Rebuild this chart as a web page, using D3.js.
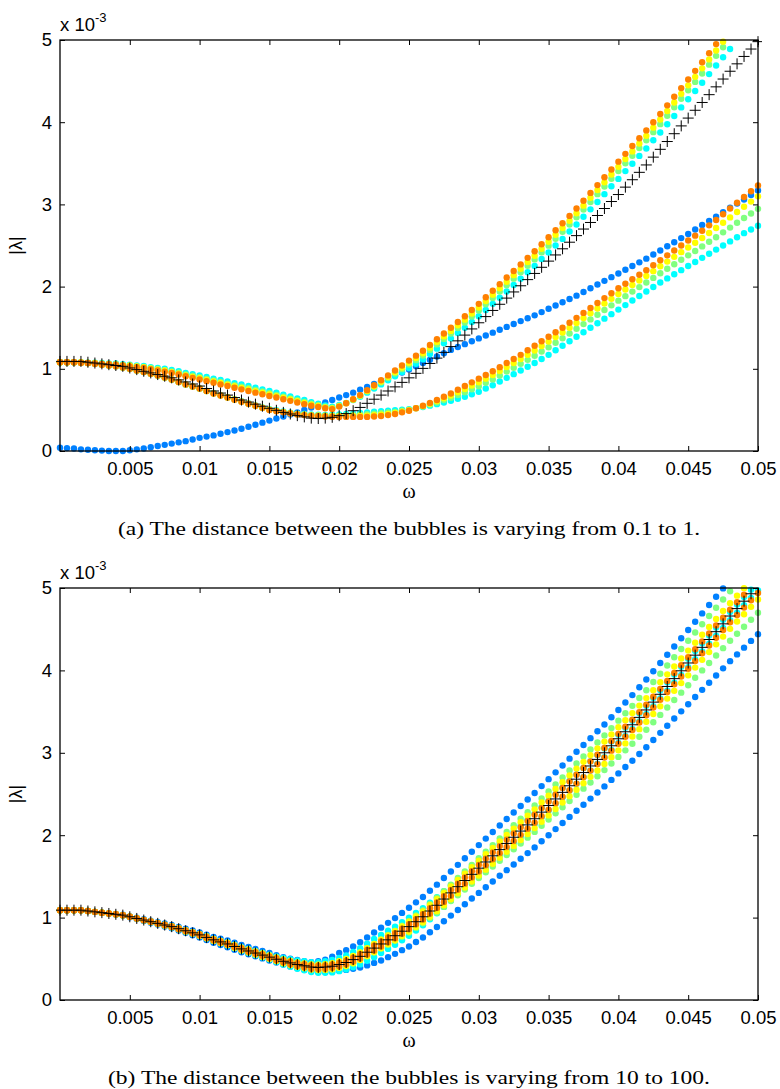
<!DOCTYPE html>
<html>
<head>
<meta charset="utf-8">
<script src="https://cdn.jsdelivr.net/npm/d3@7"></script>
<style>
  body { margin: 0; background: #fff; }
  svg { display: block; }
  .tick text { font-family: "Liberation Sans", Arial, sans-serif; font-size: 18.5px; fill: #000; }
  .tick line { stroke: #000; stroke-width: 1; }
</style>
</head>
<body>
<svg id="fig" width="780" height="1089"></svg>
<script>
// ── DATA ─────────────────────────────────────────────────────────────────────
// angular frequency samples (shared by every series)
const omega = [
  0,0.0005,0.001,0.0015,0.002,0.0025,0.003,0.0035,0.004,0.0045,
  0.005,0.0055,0.006,0.0065,0.007,0.0075,0.008,0.0085,0.009,0.0095,
  0.01,0.0105,0.011,0.0115,0.012,0.0125,0.013,0.0135,0.014,0.0145,
  0.015,0.0155,0.016,0.0165,0.017,0.0175,0.018,0.0185,0.019,0.0195,
  0.02,0.0205,0.021,0.0215,0.022,0.0225,0.023,0.0235,0.024,0.0245,
  0.025,0.0255,0.026,0.0265,0.027,0.0275,0.028,0.0285,0.029,0.0295,
  0.03,0.0305,0.031,0.0315,0.032,0.0325,0.033,0.0335,0.034,0.0345,
  0.035,0.0355,0.036,0.0365,0.037,0.0375,0.038,0.0385,0.039,0.0395,
  0.04,0.0405,0.041,0.0415,0.042,0.0425,0.043,0.0435,0.044,0.0445,
  0.045,0.0455,0.046,0.0465,0.047,0.0475,0.048,0.0485,0.049,0.0495,
  0.05
];

// |lambda| in units of 1e-3 — black "+" series, panel (a)
const plusA = [
  1.09,1.09,1.09,1.09,1.08,1.07,1.06,1.05,1.04,1.03,
  1.01,0.99,0.97,0.95,0.93,0.91,0.89,0.865,0.84,0.815,
  0.79,0.76,0.73,0.705,0.68,0.65,0.62,0.595,0.57,0.545,
  0.52,0.495,0.47,0.45,0.43,0.415,0.40,0.395,0.40,0.41,
  0.43,0.455,0.49,0.53,0.58,0.63,0.68,0.73,0.78,0.835,
  0.89,0.945,1.005,1.065,1.13,1.20,1.27,1.34,1.41,1.485,
  1.56,1.635,1.71,1.785,1.86,1.935,2.01,2.085,2.16,2.235,
  2.31,2.385,2.46,2.54,2.62,2.70,2.78,2.865,2.95,3.035,
  3.12,3.21,3.30,3.39,3.48,3.575,3.67,3.765,3.86,3.955,
  4.05,4.145,4.24,4.335,4.43,4.525,4.62,4.71,4.80,4.89,
  4.98
];
// black "+" series, panel (b)
const plusB = [
  1.09,1.09,1.09,1.09,1.08,1.07,1.06,1.05,1.04,1.03,
  1.01,0.99,0.97,0.95,0.93,0.91,0.89,0.865,0.84,0.815,
  0.79,0.76,0.73,0.705,0.68,0.65,0.62,0.595,0.57,0.545,
  0.52,0.495,0.47,0.45,0.43,0.415,0.40,0.395,0.40,0.41,
  0.43,0.455,0.49,0.53,0.58,0.63,0.68,0.73,0.78,0.835,
  0.89,0.95,1.01,1.08,1.15,1.225,1.30,1.375,1.45,1.525,
  1.60,1.675,1.75,1.825,1.90,1.975,2.05,2.125,2.20,2.28,
  2.36,2.44,2.52,2.60,2.68,2.76,2.84,2.92,3.00,3.085,
  3.17,3.255,3.34,3.43,3.52,3.615,3.71,3.805,3.90,3.995,
  4.09,4.185,4.28,4.375,4.47,4.565,4.66,4.75,4.84,4.93,
  5.02
];

// ── panel (a): distance 0.1 .. 1 ──
const aBlue = [
  0.04,0.035,0.03,0.02,0.015,0.01,0.005,0.0,0.0,0.0,
  0.01,0.02,0.03,0.045,0.06,0.075,0.09,0.105,0.12,0.14,
  0.16,0.175,0.19,0.21,0.23,0.25,0.27,0.295,0.32,0.345,
  0.37,0.395,0.42,0.445,0.47,0.50,0.53,0.56,0.59,0.62,
  0.65,0.68,0.71,0.745,0.78,0.815,0.85,0.885,0.92,0.955,
  0.99,1.03,1.07,1.11,1.15,1.19,1.23,1.265,1.30,1.335,
  1.37,1.405,1.44,1.475,1.51,1.545,1.58,1.615,1.65,1.69,
  1.73,1.77,1.81,1.85,1.89,1.935,1.98,2.025,2.07,2.115,
  2.16,2.205,2.25,2.295,2.34,2.39,2.44,2.49,2.54,2.59,
  2.64,2.695,2.75,2.80,2.85,2.905,2.96,3.01,3.06,3.115,
  3.17
];
const aCyanUp = [
  1.08,1.08,1.08,1.08,1.075,1.075,1.07,1.065,1.065,1.055,
  1.05,1.04,1.035,1.02,1.01,1.00,0.985,0.97,0.95,0.935,
  0.92,0.90,0.88,0.865,0.845,0.825,0.81,0.79,0.77,0.75,
  0.73,0.71,0.685,0.665,0.64,0.62,0.595,0.575,0.555,0.54,
  0.56,0.585,0.62,0.66,0.71,0.76,0.81,0.86,0.91,0.96,
  1.01,1.06,1.115,1.18,1.245,1.31,1.37,1.435,1.50,1.57,
  1.64,1.715,1.79,1.865,1.94,2.02,2.095,2.175,2.25,2.335,
  2.415,2.50,2.58,2.67,2.755,2.85,2.94,3.03,3.125,3.22,
  3.31,3.405,3.495,3.59,3.68,3.78,3.875,3.975,4.075,4.18,
  4.28,4.38,4.48,4.585,4.69,4.79,4.89
];
const aCyanLo = [
  1.08,1.08,1.08,1.075,1.07,1.06,1.05,1.04,1.03,1.015,
  1.00,0.98,0.96,0.94,0.92,0.895,0.87,0.84,0.81,0.785,
  0.76,0.73,0.705,0.68,0.655,0.63,0.605,0.58,0.555,0.53,
  0.51,0.495,0.48,0.467,0.455,0.45,0.445,0.442,0.44,0.442,
  0.445,0.45,0.455,0.462,0.47,0.477,0.485,0.49,0.495,0.502,
  0.51,0.522,0.535,0.552,0.57,0.59,0.61,0.635,0.66,0.69,
  0.72,0.76,0.80,0.845,0.89,0.935,0.98,1.025,1.07,1.12,
  1.17,1.225,1.28,1.335,1.39,1.445,1.50,1.555,1.61,1.665,
  1.72,1.775,1.83,1.885,1.94,1.995,2.05,2.10,2.15,2.20,
  2.25,2.30,2.35,2.40,2.45,2.50,2.55,2.60,2.65,2.695,
  2.74
];
const aGreenUp = [
  1.08,1.08,1.08,1.078,1.073,1.07,1.066,1.06,1.058,1.048,
  1.041,1.031,1.024,1.009,0.997,0.984,0.969,0.952,0.932,0.915,
  0.898,0.878,0.858,0.84,0.82,0.80,0.783,0.763,0.743,0.723,
  0.703,0.683,0.66,0.64,0.618,0.598,0.575,0.557,0.539,0.527,
  0.551,0.583,0.625,0.669,0.724,0.778,0.833,0.887,0.942,0.996,
  1.051,1.105,1.162,1.23,1.297,1.364,1.429,1.496,1.563,1.635,
  1.708,1.785,1.862,1.939,2.017,2.097,2.174,2.254,2.331,2.416,
  2.498,2.583,2.666,2.756,2.843,2.938,3.03,3.125,3.217,3.312,
  3.405,3.50,3.592,3.687,3.779,3.879,3.976,4.079,4.181,4.286,
  4.388,4.49,4.593,4.70,4.807,4.912
];
const aGreenLo = [
  1.08,1.08,1.08,1.075,1.07,1.06,1.05,1.04,1.03,1.015,
  1.00,0.98,0.96,0.94,0.92,0.895,0.87,0.84,0.81,0.785,
  0.76,0.73,0.703,0.678,0.653,0.628,0.603,0.578,0.553,0.528,
  0.506,0.491,0.476,0.463,0.451,0.445,0.439,0.435,0.432,0.432,
  0.432,0.435,0.438,0.442,0.447,0.453,0.46,0.468,0.476,0.489,
  0.502,0.521,0.541,0.566,0.591,0.619,0.648,0.681,0.715,0.751,
  0.787,0.829,0.871,0.919,0.966,1.013,1.06,1.109,1.158,1.21,
  1.262,1.317,1.372,1.43,1.487,1.544,1.601,1.658,1.715,1.772,
  1.829,1.884,1.939,1.994,2.049,2.106,2.163,2.218,2.272,2.326,
  2.38,2.434,2.489,2.545,2.601,2.66,2.718,2.776,2.835,2.89,
  2.946
];
const aYellowUp = [
  1.08,1.08,1.08,1.08,1.07,1.07,1.06,1.06,1.05,1.04,
  1.04,1.03,1.02,1.00,0.99,0.98,0.96,0.94,0.92,0.90,
  0.885,0.865,0.845,0.827,0.807,0.787,0.768,0.748,0.728,0.708,
  0.688,0.668,0.647,0.627,0.605,0.585,0.564,0.547,0.531,0.519,
  0.546,0.582,0.627,0.674,0.731,0.788,0.845,0.902,0.959,1.016,
  1.073,1.13,1.189,1.257,1.326,1.394,1.461,1.53,1.598,1.672,
  1.745,1.824,1.902,1.98,2.059,2.139,2.218,2.298,2.376,2.461,
  2.545,2.63,2.713,2.80,2.892,2.985,3.08,3.174,3.268,3.363,
  3.457,3.552,3.645,3.74,3.834,3.934,4.033,4.136,4.24,4.345,
  4.448,4.552,4.655,4.764,4.872,4.979
];
const aYellowLo = [
  1.08,1.08,1.08,1.075,1.07,1.06,1.05,1.04,1.03,1.015,
  1.00,0.98,0.96,0.94,0.92,0.895,0.87,0.84,0.81,0.785,
  0.76,0.73,0.70,0.676,0.651,0.626,0.601,0.576,0.551,0.526,
  0.503,0.488,0.473,0.46,0.448,0.441,0.434,0.43,0.425,0.424,
  0.423,0.424,0.426,0.428,0.43,0.435,0.441,0.451,0.462,0.479,
  0.495,0.521,0.546,0.576,0.607,0.641,0.676,0.715,0.755,0.796,
  0.837,0.88,0.924,0.973,1.021,1.07,1.119,1.171,1.223,1.277,
  1.331,1.386,1.441,1.499,1.558,1.617,1.675,1.734,1.793,1.851,
  1.91,1.965,2.02,2.075,2.13,2.188,2.247,2.304,2.362,2.419,
  2.476,2.534,2.591,2.652,2.713,2.777,2.842,2.907,2.971,3.034,
  3.098
];
const aOrangeUp = [
  1.08,1.08,1.08,1.075,1.07,1.065,1.06,1.055,1.05,1.04,
  1.03,1.02,1.01,0.995,0.98,0.965,0.95,0.93,0.91,0.89,
  0.87,0.85,0.83,0.81,0.79,0.77,0.75,0.73,0.71,0.69,
  0.67,0.65,0.63,0.61,0.59,0.57,0.55,0.535,0.52,0.51,
  0.54,0.58,0.63,0.68,0.74,0.80,0.86,0.92,0.98,1.04,
  1.10,1.16,1.22,1.29,1.36,1.43,1.50,1.57,1.64,1.715,
  1.79,1.87,1.95,2.03,2.11,2.19,2.27,2.35,2.43,2.515,
  2.60,2.685,2.77,2.86,2.95,3.045,3.14,3.235,3.33,3.425,
  3.52,3.615,3.71,3.805,3.90,4.00,4.10,4.205,4.31,4.415,
  4.52,4.625,4.73,4.84,4.95
];
const aOrangeLo = [
  1.08,1.08,1.08,1.075,1.07,1.06,1.05,1.04,1.03,1.015,
  1.00,0.98,0.96,0.94,0.92,0.895,0.87,0.84,0.81,0.785,
  0.76,0.73,0.70,0.675,0.65,0.625,0.60,0.575,0.55,0.525,
  0.50,0.485,0.47,0.457,0.445,0.437,0.43,0.425,0.42,0.417,
  0.415,0.415,0.415,0.415,0.415,0.42,0.425,0.437,0.45,0.47,
  0.49,0.52,0.55,0.585,0.62,0.66,0.70,0.745,0.79,0.835,
  0.88,0.925,0.97,1.02,1.07,1.12,1.17,1.225,1.28,1.335,
  1.39,1.445,1.50,1.56,1.62,1.68,1.74,1.80,1.86,1.92,
  1.98,2.035,2.09,2.145,2.20,2.26,2.32,2.38,2.44,2.50,
  2.56,2.62,2.68,2.745,2.81,2.88,2.95,3.02,3.09,3.16,
  3.23
];

// ── panel (b): distance 10 .. 100 ──
const bBlueUp = [
  1.09,1.09,1.09,1.09,1.08,1.07,1.06,1.05,1.045,1.035,
  1.015,0.998,0.98,0.963,0.945,0.928,0.91,0.888,0.865,0.843,
  0.82,0.793,0.766,0.744,0.722,0.695,0.668,0.645,0.62,0.595,
  0.57,0.545,0.52,0.502,0.485,0.472,0.46,0.47,0.49,0.525,
  0.57,0.605,0.65,0.70,0.76,0.82,0.878,0.936,0.994,1.057,
  1.12,1.185,1.25,1.325,1.40,1.48,1.56,1.64,1.72,1.80,
  1.88,1.959,2.038,2.117,2.196,2.275,2.354,2.433,2.512,2.596,
  2.68,2.763,2.846,2.929,3.012,3.095,3.178,3.261,3.344,3.432,
  3.52,3.61,3.70,3.795,3.89,3.99,4.09,4.19,4.29,4.39,
  4.49,4.591,4.692,4.793,4.894,4.995
];
const bBlueLo = [
  1.09,1.09,1.09,1.09,1.08,1.07,1.06,1.05,1.035,1.025,
  1.005,0.982,0.96,0.937,0.915,0.892,0.87,0.842,0.815,0.787,
  0.76,0.727,0.694,0.667,0.64,0.61,0.58,0.555,0.53,0.505,
  0.48,0.455,0.43,0.408,0.385,0.368,0.35,0.34,0.34,0.343,
  0.355,0.365,0.38,0.395,0.42,0.45,0.48,0.52,0.56,0.605,
  0.65,0.704,0.758,0.822,0.886,0.955,1.024,1.093,1.162,1.231,
  1.30,1.369,1.438,1.507,1.576,1.645,1.714,1.783,1.852,1.926,
  2.00,2.074,2.148,2.222,2.296,2.37,2.444,2.518,2.592,2.671,
  2.75,2.827,2.904,2.986,3.068,3.155,3.242,3.329,3.416,3.503,
  3.59,3.677,3.764,3.851,3.938,4.025,4.112,4.194,4.276,4.358,
  4.44
];
const bCyanUp = [
  1.09,1.09,1.09,1.09,1.08,1.07,1.06,1.05,1.04,1.03,
  1.01,0.991,0.972,0.953,0.934,0.915,0.896,0.872,0.848,0.824,
  0.80,0.772,0.744,0.721,0.698,0.67,0.642,0.619,0.596,0.573,
  0.55,0.53,0.51,0.495,0.48,0.47,0.46,0.46,0.47,0.485,
  0.51,0.541,0.582,0.628,0.684,0.74,0.79,0.84,0.89,0.945,
  1.00,1.057,1.114,1.181,1.248,1.32,1.392,1.464,1.536,1.608,
  1.68,1.753,1.826,1.899,1.972,2.045,2.118,2.191,2.264,2.342,
  2.42,2.499,2.578,2.657,2.736,2.815,2.894,2.973,3.052,3.136,
  3.22,3.305,3.39,3.48,3.57,3.665,3.76,3.855,3.95,4.045,
  4.14,4.235,4.33,4.425,4.52,4.615,4.71,4.80,4.89,4.98
];
const bCyanLo = [
  1.09,1.09,1.09,1.09,1.08,1.07,1.06,1.05,1.04,1.03,
  1.01,0.989,0.968,0.947,0.926,0.905,0.884,0.858,0.832,0.806,
  0.78,0.748,0.716,0.689,0.662,0.63,0.598,0.571,0.544,0.517,
  0.49,0.46,0.43,0.405,0.38,0.36,0.34,0.33,0.33,0.335,
  0.35,0.369,0.398,0.432,0.476,0.52,0.57,0.62,0.67,0.725,
  0.78,0.843,0.906,0.979,1.052,1.13,1.208,1.286,1.364,1.442,
  1.52,1.597,1.674,1.751,1.828,1.905,1.982,2.059,2.136,2.218,
  2.30,2.381,2.462,2.543,2.624,2.705,2.786,2.867,2.948,3.034,
  3.12,3.205,3.29,3.38,3.47,3.565,3.66,3.755,3.85,3.945,
  4.04,4.135,4.23,4.325,4.42,4.515,4.61,4.70,4.79,4.88,
  4.97
];
const bGreenUp = [
  1.09,1.09,1.09,1.09,1.08,1.07,1.06,1.05,1.04,1.03,
  1.01,0.991,0.972,0.953,0.934,0.915,0.896,0.872,0.848,0.824,
  0.80,0.771,0.742,0.718,0.694,0.665,0.636,0.612,0.588,0.564,
  0.54,0.517,0.493,0.475,0.457,0.443,0.43,0.428,0.435,0.448,
  0.47,0.497,0.534,0.576,0.628,0.68,0.734,0.788,0.842,0.901,
  0.96,1.025,1.09,1.165,1.24,1.32,1.40,1.48,1.56,1.64,
  1.72,1.80,1.88,1.96,2.04,2.12,2.20,2.28,2.36,2.445,
  2.53,2.615,2.70,2.785,2.87,2.955,3.04,3.125,3.21,3.30,
  3.39,3.48,3.57,3.665,3.76,3.86,3.96,4.06,4.16,4.26,
  4.36,4.46,4.56,4.66,4.76,4.86,4.96
];
const bGreenLo = [
  1.09,1.09,1.09,1.09,1.08,1.07,1.06,1.05,1.04,1.03,
  1.01,0.989,0.968,0.947,0.926,0.905,0.884,0.858,0.832,0.806,
  0.78,0.749,0.718,0.692,0.666,0.635,0.604,0.578,0.552,0.526,
  0.50,0.473,0.447,0.425,0.403,0.387,0.37,0.363,0.365,0.373,
  0.39,0.413,0.446,0.484,0.532,0.58,0.626,0.672,0.718,0.769,
  0.82,0.875,0.93,0.995,1.06,1.13,1.20,1.27,1.34,1.41,
  1.48,1.55,1.62,1.69,1.76,1.83,1.90,1.97,2.04,2.115,
  2.19,2.265,2.34,2.415,2.49,2.565,2.64,2.715,2.79,2.87,
  2.95,3.03,3.11,3.195,3.28,3.37,3.46,3.55,3.64,3.73,
  3.82,3.91,4.00,4.09,4.18,4.27,4.36,4.445,4.53,4.615,
  4.70
];
const bYellowUp = [
  1.09,1.09,1.09,1.09,1.08,1.07,1.06,1.05,1.04,1.03,
  1.01,0.991,0.972,0.953,0.934,0.915,0.896,0.872,0.848,0.824,
  0.80,0.771,0.742,0.718,0.694,0.665,0.636,0.612,0.588,0.564,
  0.54,0.517,0.493,0.475,0.457,0.443,0.43,0.428,0.435,0.448,
  0.47,0.497,0.534,0.576,0.628,0.68,0.732,0.784,0.836,0.893,
  0.95,1.013,1.076,1.149,1.222,1.30,1.378,1.456,1.534,1.612,
  1.69,1.768,1.846,1.924,2.002,2.08,2.158,2.236,2.314,2.397,
  2.48,2.562,2.644,2.726,2.808,2.89,2.972,3.054,3.136,3.223,
  3.31,3.396,3.482,3.573,3.664,3.76,3.856,3.952,4.048,4.144,
  4.24,4.336,4.432,4.528,4.624,4.72,4.816,4.907,4.998
];
const bYellowLo = [
  1.09,1.09,1.09,1.09,1.08,1.07,1.06,1.05,1.04,1.03,
  1.01,0.989,0.968,0.947,0.926,0.905,0.884,0.858,0.832,0.806,
  0.78,0.749,0.718,0.692,0.666,0.635,0.604,0.578,0.552,0.526,
  0.50,0.473,0.447,0.425,0.403,0.387,0.37,0.363,0.365,0.373,
  0.39,0.413,0.446,0.484,0.532,0.58,0.628,0.676,0.724,0.777,
  0.83,0.887,0.944,1.011,1.078,1.15,1.222,1.294,1.366,1.438,
  1.51,1.582,1.654,1.726,1.798,1.87,1.942,2.014,2.086,2.163,
  2.24,2.318,2.396,2.474,2.552,2.63,2.708,2.786,2.864,2.947,
  3.03,3.114,3.198,3.287,3.376,3.47,3.564,3.658,3.752,3.846,
  3.94,4.034,4.128,4.222,4.316,4.41,4.504,4.593,4.682,4.771,
  4.86
];
const bOrangeUp = [
  1.09,1.09,1.09,1.09,1.08,1.07,1.06,1.05,1.04,1.03,
  1.01,0.991,0.971,0.952,0.932,0.913,0.893,0.869,0.844,0.82,
  0.795,0.766,0.736,0.712,0.687,0.658,0.628,0.604,0.579,0.555,
  0.53,0.507,0.483,0.465,0.447,0.433,0.42,0.415,0.42,0.43,
  0.45,0.477,0.514,0.556,0.608,0.66,0.71,0.76,0.81,0.865,
  0.92,0.981,1.042,1.113,1.184,1.26,1.336,1.412,1.488,1.564,
  1.64,1.716,1.792,1.868,1.944,2.02,2.096,2.172,2.248,2.329,
  2.41,2.491,2.572,2.653,2.734,2.815,2.896,2.977,3.058,3.144,
  3.23,3.316,3.402,3.493,3.584,3.68,3.776,3.872,3.968,4.064,
  4.16,4.256,4.352,4.448,4.544,4.64,4.736,4.827,4.918
];
const bOrangeLo = [
  1.09,1.09,1.09,1.09,1.08,1.07,1.06,1.05,1.04,1.03,
  1.01,0.99,0.969,0.949,0.928,0.908,0.887,0.862,0.836,0.811,
  0.785,0.755,0.724,0.699,0.673,0.643,0.612,0.587,0.561,0.536,
  0.51,0.483,0.457,0.435,0.413,0.397,0.38,0.375,0.38,0.39,
  0.41,0.433,0.466,0.504,0.552,0.60,0.65,0.70,0.75,0.805,
  0.86,0.919,0.978,1.047,1.116,1.19,1.264,1.338,1.412,1.486,
  1.56,1.634,1.708,1.782,1.856,1.93,2.004,2.078,2.152,2.231,
  2.31,2.389,2.468,2.547,2.626,2.705,2.784,2.863,2.942,3.026,
  3.11,3.194,3.278,3.367,3.456,3.55,3.644,3.738,3.832,3.926,
  4.02,4.114,4.208,4.302,4.396,4.49,4.584,4.673,4.762,4.851,
  4.94
];

// axis ticks
const xTicks      = [0.005, 0.01, 0.015, 0.02, 0.025, 0.03, 0.035, 0.04, 0.045, 0.05];
const xTickLabels = ['0.005', '0.01', '0.015', '0.02', '0.025', '0.03', '0.035', '0.04', '0.045', '0.05'];
const yTicks      = [0, 1, 2, 3, 4, 5];

// jet-like colours, one per distance
const COL = { blue: '#0080ff', cyan: '#00ffff', green: '#80ff80', yellow: '#ffff00', orange: '#ff8000' };

// ── LAYOUT ───────────────────────────────────────────────────────────────────
const LEFT = 60, PW = 698;
const svg = d3.select('#fig');

function drawPanel(top, ph, series, plus, caption, capWidth, capDy) {
  const g = svg.append('g').attr('transform', `translate(${LEFT},${top})`);
  const x = d3.scaleLinear().domain([0, 0.05]).range([0, PW]);
  const y = d3.scaleLinear().domain([0, 5]).range([ph, 0]);

  const clipId = 'clip' + top;
  g.append('clipPath').attr('id', clipId)
    .append('rect').attr('x', -4).attr('y', -4).attr('width', PW + 8).attr('height', ph + 8);

  const plot = g.append('g').attr('clip-path', `url(#${clipId})`);

  // dot series, drawn in order (orange ends on top)
  series.forEach(s => {
    const pts = s.values.map((v, i) => ({ w: omega[i], v })).filter(d => d.v <= 5);
    plot.append('g').selectAll('circle')
      .data(pts)
      .join('circle')
        .attr('cx', d => x(d.w))
        .attr('cy', d => y(d.v))
        .attr('r', 3.2)
        .attr('fill', s.color);
  });

  // black "+" series
  const plusPts = plus.map((v, i) => ({ w: omega[i], v })).filter(d => d.v <= 5);
  plot.append('g').selectAll('path')
    .data(plusPts)
    .join('path')
      .attr('transform', d => `translate(${x(d.w)},${y(d.v)})`)
      .attr('d', 'M-5.5,0H5.5M0,-5.5V5.5')
      .attr('stroke', '#000')
      .attr('stroke-width', 1)
      .attr('fill', 'none');

  // axes (MATLAB style: inward ticks on all four sides)
  const fmt = d => xTickLabels[xTicks.indexOf(d)];
  const xb = g.append('g').attr('transform', `translate(0,${ph})`)
    .call(d3.axisBottom(x).tickValues(xTicks).tickFormat(fmt).tickSize(-5).tickPadding(11));
  const xt = g.append('g')
    .call(d3.axisTop(x).tickValues(xTicks).tickFormat('').tickSize(-5));
  const yl = g.append('g')
    .call(d3.axisLeft(y).tickValues(yTicks).tickFormat(d3.format('d')).tickSize(-5).tickPadding(8));
  const yr = g.append('g').attr('transform', `translate(${PW},0)`)
    .call(d3.axisRight(y).tickValues(yTicks).tickFormat('').tickSize(-5));
  [xb, xt, yl, yr].forEach(a => {
    a.attr('font-family', null).attr('font-size', null);
    a.select('.domain').remove();
  });

  g.append('rect')
    .attr('width', PW).attr('height', ph)
    .attr('fill', 'none').attr('stroke', '#000').attr('stroke-width', 1.3);

  // exponent label
  const ex = g.append('text')
    .attr('x', 0).attr('y', -9)
    .attr('font-family', 'Liberation Sans, Arial, sans-serif')
    .attr('font-size', 18.5);
  ex.append('tspan').text('x 10');
  ex.append('tspan').attr('dy', -9).attr('font-size', 13).text('-3');

  // axis labels
  g.append('text')
    .attr('transform', `translate(-38,${ph / 2}) rotate(-90)`)
    .attr('text-anchor', 'middle')
    .attr('font-family', 'Liberation Sans, Arial, sans-serif')
    .attr('font-size', 18)
    .text('|λ|');

  g.append('text')
    .attr('x', PW / 2).attr('y', ph + 47)
    .attr('text-anchor', 'middle')
    .attr('font-family', 'Liberation Serif, Times New Roman, serif')
    .attr('font-size', 20)
    .text('ω');

  g.append('text')
    .attr('x', PW / 2).attr('y', ph + capDy)
    .attr('text-anchor', 'middle')
    .attr('font-family', 'Liberation Serif, Times New Roman, serif')
    .attr('font-size', 18.5)
    .attr('textLength', capWidth)
    .attr('lengthAdjust', 'spacingAndGlyphs')
    .text(caption);
}

drawPanel(40, 411, [
  { color: COL.blue,   values: aBlue },
  { color: COL.cyan,   values: aCyanUp },
  { color: COL.cyan,   values: aCyanLo },
  { color: COL.green,  values: aGreenUp },
  { color: COL.green,  values: aGreenLo },
  { color: COL.yellow, values: aYellowUp },
  { color: COL.yellow, values: aYellowLo },
  { color: COL.orange, values: aOrangeUp },
  { color: COL.orange, values: aOrangeLo }
], plusA, '(a) The distance between the bubbles is varying from 0.1 to 1.', 582, 84);

drawPanel(588, 412, [
  { color: COL.blue,   values: bBlueUp },
  { color: COL.blue,   values: bBlueLo },
  { color: COL.cyan,   values: bCyanUp },
  { color: COL.cyan,   values: bCyanLo },
  { color: COL.green,  values: bGreenUp },
  { color: COL.green,  values: bGreenLo },
  { color: COL.yellow, values: bYellowUp },
  { color: COL.yellow, values: bYellowLo },
  { color: COL.orange, values: bOrangeUp },
  { color: COL.orange, values: bOrangeLo }
], plusB, '(b) The distance between the bubbles is varying from 10 to 100.', 602, 84);
</script>
</body>
</html>
